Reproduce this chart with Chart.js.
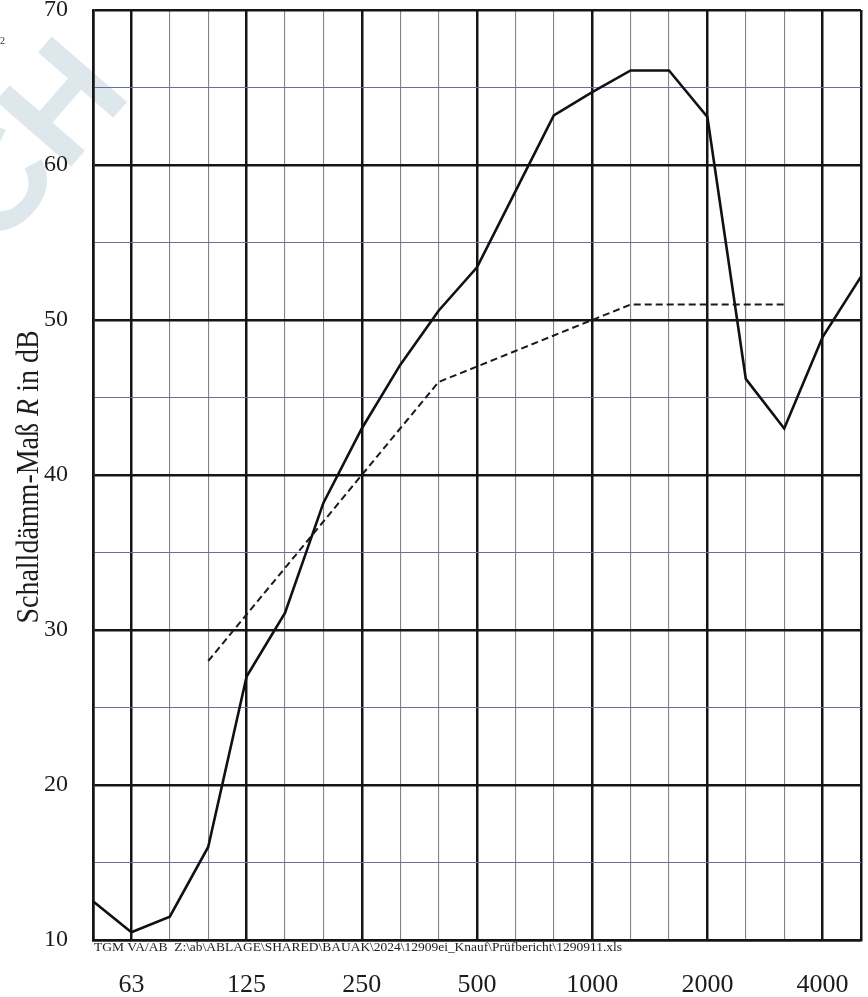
<!DOCTYPE html><html lang="de"><head><meta charset="utf-8">
<title>Schalldämm-Maß</title>
<script src="https://cdn.jsdelivr.net/npm/chart.js@4/dist/chart.umd.min.js"></script>
<style>
  html, body { margin: 0; padding: 0; background: #fff; }
  #wrap { width: 868px; height: 997px; position: relative; }
</style>
</head>
<body>
<div id="wrap"><canvas id="chart"></canvas></div>

<script>
// Terzbänder 50 Hz ... 5000 Hz
const bands = ['50', '63', '80', '100', '125', '160', '200', '250', '315', '400', '500',
               '630', '800', '1000', '1250', '1600', '2000', '2500', '3150', '4000', '5000'];
const octaveLabels = ['63', '125', '250', '500', '1000', '2000', '4000'];

// gemessenes Schalldämm-Maß R (dB)
const measured = [12.5, 10.5, 11.5, 16.0, 27.0, 31.1, 38.2, 43.0, 47.1, 50.6, 53.4,
                  58.3, 63.2, 64.7, 66.1, 66.1, 63.1, 46.2, 43.0, 48.9, 52.8];
// verschobene Bezugskurve (100 - 3150 Hz)
const reference = [null, null, null, 28, 31, 34, 37, 40, 43, 46, 47,
                   48, 49, 50, 51, 51, 51, 51, 51, null, null];

const yMin = 10, yMax = 70;
const footerText = 'TGM VA/AB  Z:\\ab\\ABLAGE\\SHARED\\BAUAK\\2024\\12909ei_Knauf\\Prüfbericht\\1290911.xls';

const serif = '"Liberation Serif", "Times New Roman", serif';

// Hintergrund + Wasserzeichen
const backdrop = {
  id: 'backdrop',
  beforeDraw(chart) {
    const c = chart.ctx;
    c.save();
    c.fillStyle = '#fff';
    c.fillRect(0, 0, chart.width, chart.height);
    c.fillStyle = 'rgba(200, 216, 224, 0.6)';
    c.font = 'bold 145px "Liberation Sans", Arial, sans-serif';
    c.textAlign = 'center';
    c.textBaseline = 'middle';
    const a = -49 * Math.PI / 180;
    // H
    c.save();
    c.translate(69, 108);
    c.rotate(a);
    c.fillText('H', 0, 0);
    c.restore();
    // C davor
    c.save();
    c.translate(69 - 105 * Math.cos(a), 108 - 105 * Math.sin(a));
    c.rotate(a);
    c.fillText('C', 0, 0);
    c.restore();
    c.restore();
  }
};

// Achsentitel mit kursivem R, Fußzeile
const texts = {
  id: 'texts',
  afterDraw(chart) {
    const c = chart.ctx;
    c.save();
    c.fillStyle = '#1c1c1c';
    // y-Titel
    c.translate(38, 477);
    c.scale(1.15, 1);
    c.rotate(-Math.PI / 2);
    c.textBaseline = 'alphabetic';
    const parts = [['Schalldämm-Maß ', ''], ['R', 'italic '], [' in dB', '']];
    let total = 0;
    parts.forEach(p => { c.font = p[1] + '28px ' + serif; total += c.measureText(p[0]).width; });
    let x = -total / 2;
    parts.forEach(p => {
      c.font = p[1] + '28px ' + serif;
      c.fillText(p[0], x, 0);
      x += c.measureText(p[0]).width;
    });
    c.restore();

    // Dateipfad unter der Grafik
    c.save();
    c.fillStyle = '#1c1c1c';
    c.font = '12px ' + serif;
    c.textBaseline = 'alphabetic';
    const w = c.measureText(footerText).width;
    c.translate(94, 951);
    c.scale(528 / w, 1);
    c.fillText(footerText, 0, 0);
    c.restore();

    // abgeschnittener Rest links oben
    c.save();
    c.fillStyle = '#333';
    c.font = '10px ' + serif;
    c.fillText('2', 0, 44);
    c.restore();
  }
};

const ctx = document.getElementById('chart').getContext('2d');
new Chart(ctx, {
  type: 'line',
  data: {
    labels: bands,
    datasets: [{
      label: 'R',
      data: measured,
      borderColor: '#111',
      borderWidth: 2.6,
      pointRadius: 0,
      tension: 0,
      fill: false
    }, {
      label: 'Bezugskurve',
      data: reference,
      borderColor: '#1a1a1a',
      borderWidth: 2,
      borderDash: [7, 4],
      pointRadius: 0,
      tension: 0,
      fill: false,
      spanGaps: false
    }]
  },
  options: {
    responsive: true,
    maintainAspectRatio: false,
    animation: false,
    layout: { padding: { top: 10, right: 7, left: 0, bottom: 0 } },
    plugins: { legend: { display: false }, tooltip: { enabled: false } },
    scales: {
      x: {
        type: 'category',
        offset: false,
        afterFit: (s) => { s.height = 57; s.paddingLeft = 0; s.paddingRight = 0; },
        grid: {
          offset: false,
          drawTicks: false,
          color: (c) => {
            const b = bands[c.index];
            return (octaveLabels.includes(b) || c.index === 0 || c.index === bands.length - 1) ? '#151515' : '#858585';
          },
          lineWidth: (c) => {
            const b = bands[c.index];
            return (octaveLabels.includes(b) || c.index === 0 || c.index === bands.length - 1) ? 2.5 : 1.1;
          }
        },
        border: { display: true, color: '#151515', width: 2.5 },
        ticks: {
          autoSkip: false,
          maxRotation: 0,
          padding: 30,
          color: '#1c1c1c',
          font: { family: serif, size: 26 },
          callback: (v, i) => octaveLabels.includes(bands[i]) ? bands[i] : ''
        }
      },
      y: {
        min: yMin,
        max: yMax,
        afterFit: (s) => { s.width = 93; s.paddingTop = 0; s.paddingBottom = 0; },
        grid: {
          drawTicks: false,
          color: (c) => (c.tick.value % 10 === 0) ? '#151515' : '#6c6c98',
          lineWidth: (c) => (c.tick.value % 10 === 0) ? 2.5 : 1.1
        },
        border: { display: true, color: '#151515', width: 2.5 },
        ticks: {
          stepSize: 5,
          padding: 25,
          color: '#1c1c1c',
          font: { family: serif, size: 24 },
          callback: (v) => (v % 10 === 0) ? v : ''
        }
      }
    }
  },
  plugins: [backdrop, texts]
});
</script>
</body>
</html>
